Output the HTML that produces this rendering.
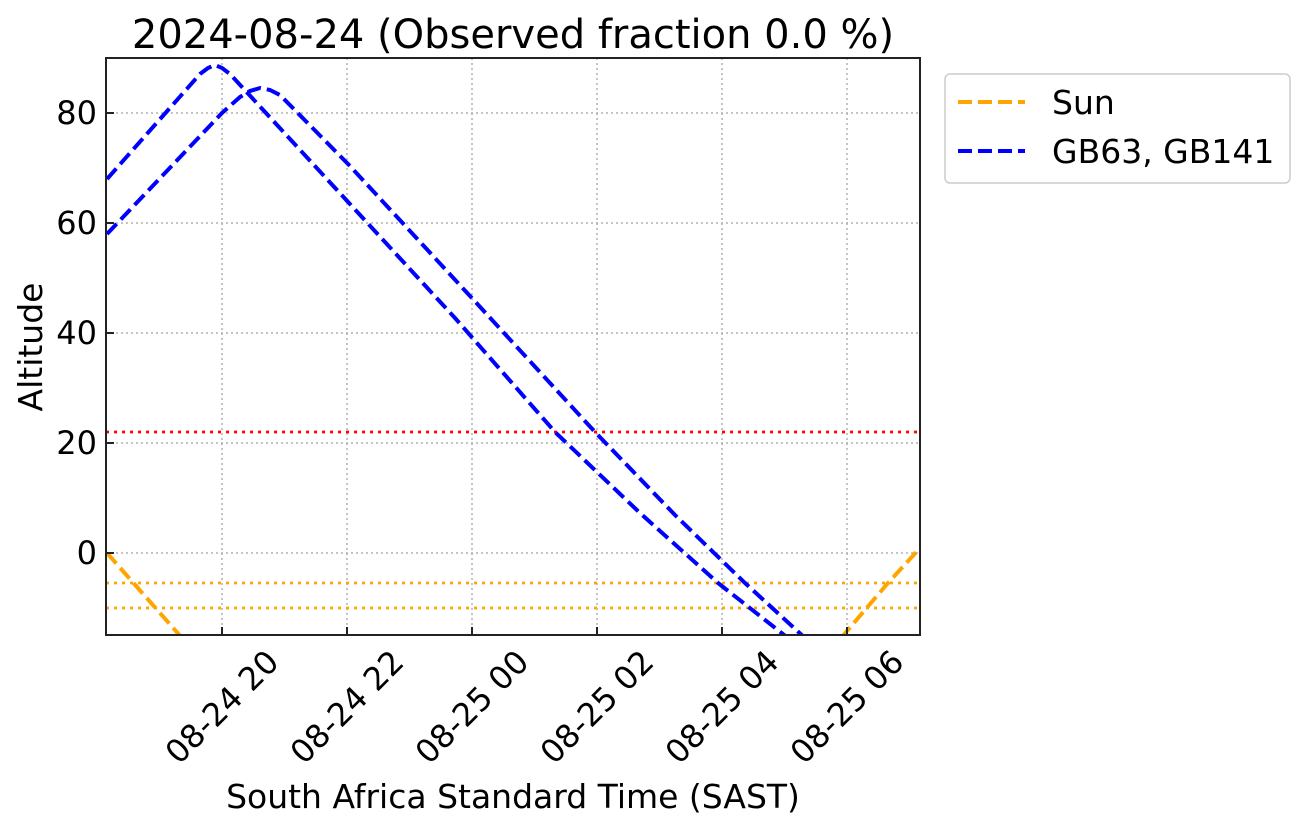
<!DOCTYPE html>
<html><head><style>body{margin:0;background:#fff}svg{display:block}</style></head><body>
<svg width="1304" height="829" xmlns="http://www.w3.org/2000/svg" font-family="DejaVu Sans, Liberation Sans, sans-serif">
<defs><clipPath id="c"><rect x="106" y="58" width="814" height="577"/></clipPath></defs>
<g stroke="#b0b0b0" stroke-width="1.5" stroke-dasharray="2,3">
<line x1="222" y1="58" x2="222" y2="635"/><line x1="347" y1="58" x2="347" y2="635"/><line x1="472" y1="58" x2="472" y2="635"/><line x1="597" y1="58" x2="597" y2="635"/><line x1="722" y1="58" x2="722" y2="635"/><line x1="847" y1="58" x2="847" y2="635"/>
<line x1="106" y1="113" x2="920" y2="113"/><line x1="106" y1="223" x2="920" y2="223"/><line x1="106" y1="333" x2="920" y2="333"/><line x1="106" y1="443" x2="920" y2="443"/><line x1="106" y1="553" x2="920" y2="553"/>
</g>
<g clip-path="url(#c)" fill="none">
<line x1="106" y1="432" x2="920" y2="432" stroke="red" stroke-width="2.8" stroke-dasharray="3,5"/>
<line x1="106" y1="583" x2="920" y2="583" stroke="orange" stroke-width="2.8" stroke-dasharray="3,5"/>
<line x1="106" y1="608" x2="920" y2="608" stroke="orange" stroke-width="2.8" stroke-dasharray="3,5"/>
<g stroke-width="4" stroke-dasharray="14,6">
<polyline stroke="blue" points="107,179 200,74 208,68 215,65 222,68 230,74 349,203 455,318 555,432 640,513 718,583 788,638"/>
<polyline stroke="blue" points="107,234 222,113 240,97 250,91 260,88 270,90 280,95 349,165 470,296 595,432 675,515 745,583 805,638"/>
<polyline stroke="orange" points="107,553 182,638"/>
<polyline stroke="orange" points="841,638 888,583 920,548"/>
</g>
</g>
<rect x="106" y="58" width="814" height="577" fill="none" stroke="#222" stroke-width="2"/>
<g stroke="#222" stroke-width="2">
<line x1="106" y1="113" x2="114" y2="113"/><line x1="106" y1="223" x2="114" y2="223"/><line x1="106" y1="333" x2="114" y2="333"/><line x1="106" y1="443" x2="114" y2="443"/><line x1="106" y1="553" x2="114" y2="553"/>
<line x1="222" y1="635" x2="222" y2="627"/><line x1="347" y1="635" x2="347" y2="627"/><line x1="472" y1="635" x2="472" y2="627"/><line x1="597" y1="635" x2="597" y2="627"/><line x1="722" y1="635" x2="722" y2="627"/><line x1="847" y1="635" x2="847" y2="627"/>
</g>
<g font-size="32" text-anchor="end" dominant-baseline="central">
<text x="97" y="113">80</text><text x="97" y="223">60</text><text x="97" y="333">40</text><text x="97" y="443">20</text><text x="97" y="553">0</text>
</g>
<g font-size="32" text-anchor="middle" dominant-baseline="central">
<text transform="translate(222,707) rotate(-45)">08-24 20</text>
<text transform="translate(347,707) rotate(-45)">08-24 22</text>
<text transform="translate(472,707) rotate(-45)">08-25 00</text>
<text transform="translate(597,707) rotate(-45)">08-25 02</text>
<text transform="translate(722,707) rotate(-45)">08-25 04</text>
<text transform="translate(847,707) rotate(-45)">08-25 06</text>
</g>
<text x="513" y="808" font-size="33" text-anchor="middle">South Africa Standard Time (SAST)</text>
<text transform="translate(42,347) rotate(-90)" font-size="33" text-anchor="middle">Altitude</text>
<text x="513" y="48" font-size="40" text-anchor="middle">2024-08-24 (Observed fraction 0.0 %)</text>
<rect x="945" y="74" width="345" height="109" rx="5" fill="#fff" stroke="#ccc" stroke-width="1.5"/>
<line x1="958" y1="102" x2="1025" y2="102" stroke="orange" stroke-width="4" stroke-dasharray="14,6"/>
<line x1="958" y1="151" x2="1025" y2="151" stroke="blue" stroke-width="4" stroke-dasharray="14,6"/>
<text x="1052" y="114" font-size="33">Sun</text>
<text x="1052" y="163" font-size="33">GB63, GB141</text>
</svg>
</body></html>
